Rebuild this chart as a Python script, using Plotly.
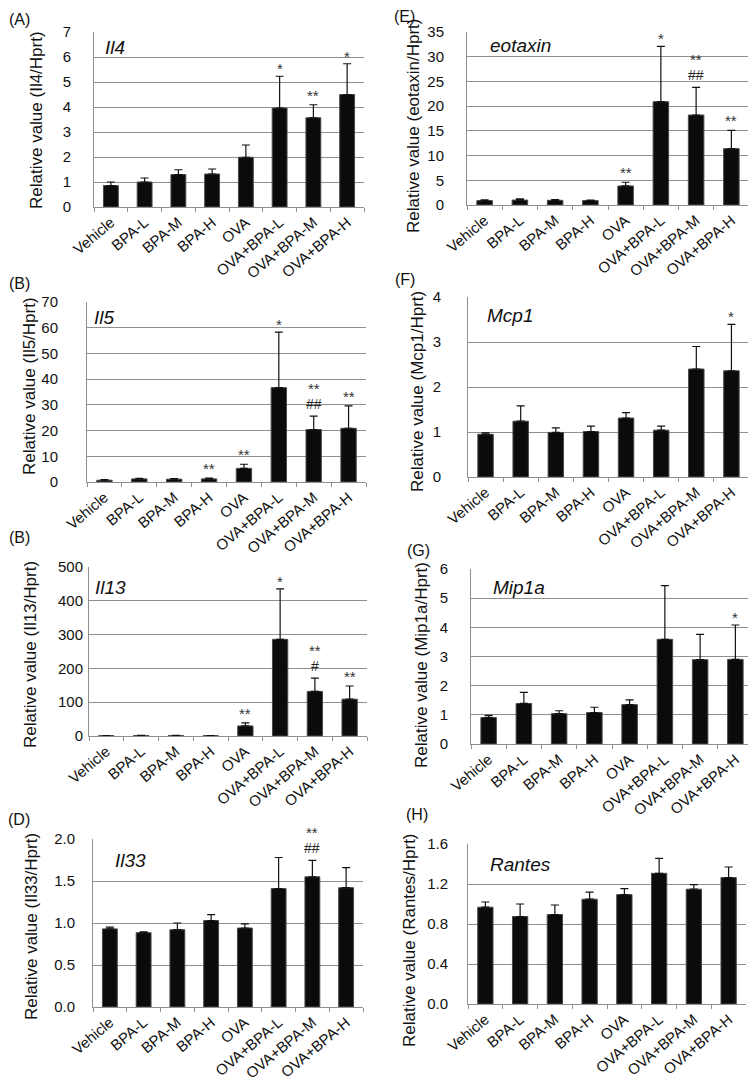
import plotly.graph_objects as go

categories = ["Vehicle", "BPA-L", "BPA-M", "BPA-H", "OVA", "OVA+BPA-L", "OVA+BPA-M", "OVA+BPA-H"]

# (A) Il4
il4_mean = [0.86, 1.00, 1.30, 1.32, 1.99, 3.96, 3.57, 4.50]
il4_sd = [0.14, 0.16, 0.19, 0.20, 0.49, 1.27, 0.52, 1.23]
il4_star = ["", "", "", "", "", "*", "**", "*"]
il4_hash = ["", "", "", "", "", "", "", ""]

# (E) eotaxin
eot_mean = [0.90, 1.00, 0.95, 0.90, 3.85, 20.9, 18.2, 11.4]
eot_sd = [0.15, 0.25, 0.15, 0.10, 0.75, 11.2, 5.6, 3.7]
eot_star = ["", "", "", "", "**", "*", "**", "**"]
eot_hash = ["", "", "", "", "", "", "##", ""]

# (B) Il5
il5_mean = [0.7, 1.2, 1.1, 1.2, 5.3, 36.7, 20.4, 20.9]
il5_sd = [0.2, 0.2, 0.2, 0.3, 1.6, 21.6, 5.2, 8.7]
il5_star = ["", "", "", "**", "**", "*", "**", "**"]
il5_hash = ["", "", "", "", "", "", "##", ""]

# (F) Mcp1
mcp1_mean = [0.95, 1.24, 0.99, 1.01, 1.31, 1.04, 2.40, 2.36]
mcp1_sd = [0.03, 0.34, 0.10, 0.12, 0.12, 0.09, 0.50, 1.03]
mcp1_star = ["", "", "", "", "", "", "", "*"]
mcp1_hash = ["", "", "", "", "", "", "", ""]

# (B) Il13
il13_mean = [1.0, 1.5, 1.5, 1.0, 29.7, 286, 132, 109]
il13_sd = [0.3, 0.4, 0.4, 0.3, 8.9, 149, 39, 39]
il13_star = ["", "", "", "", "**", "*", "**", "**"]
il13_hash = ["", "", "", "", "", "", "#", ""]

# (G) Mip1a
mip_mean = [0.91, 1.39, 1.04, 1.08, 1.35, 3.59, 2.89, 2.90]
mip_sd = [0.07, 0.38, 0.10, 0.18, 0.16, 1.84, 0.87, 1.18]
mip_star = ["", "", "", "", "", "", "", "*"]
mip_hash = ["", "", "", "", "", "", "", ""]

# (D) Il33
il33_mean = [0.93, 0.885, 0.92, 1.03, 0.94, 1.41, 1.55, 1.42]
il33_sd = [0.02, 0.01, 0.08, 0.07, 0.05, 0.37, 0.195, 0.24]
il33_star = ["", "", "", "", "", "", "**", ""]
il33_hash = ["", "", "", "", "", "", "##", ""]

# (H) Rantes
ran_mean = [0.968, 0.875, 0.895, 1.048, 1.094, 1.307, 1.148, 1.264]
ran_sd = [0.052, 0.125, 0.095, 0.070, 0.060, 0.150, 0.046, 0.106]
ran_star = ["", "", "", "", "", "", "", ""]
ran_hash = ["", "", "", "", "", "", "", ""]

panel_letters = ["(A)", "(E)", "(B)", "(F)", "(B)", "(G)", "(D)", "(H)"]
gene_names = ["Il4", "eotaxin", "Il5", "Mcp1", "Il13", "Mip1a", "Il33", "Rantes"]
y_titles = ["Relative value (Il4/Hprt)", "Relative value (eotaxin/Hprt)",
            "Relative value (Il5/Hprt)", "Relative value (Mcp1/Hprt)",
            "Relative value (Il13/Hprt)", "Relative value (Mip1a/Hprt)",
            "Relative value (Il33/Hprt)", "Relative value (Rantes/Hprt)"]
y_max = [7, 35, 70, 4, 500, 6, 2.0, 1.6]
y_dtick = [1, 5, 10, 1, 100, 1, 0.5, 0.4]
y_fmt = ["d", "d", "d", "d", "d", "d", ".1f", ".1f"]

means = [il4_mean, eot_mean, il5_mean, mcp1_mean, il13_mean, mip_mean, il33_mean, ran_mean]
sds = [il4_sd, eot_sd, il5_sd, mcp1_sd, il13_sd, mip_sd, il33_sd, ran_sd]
stars = [il4_star, eot_star, il5_star, mcp1_star, il13_star, mip_star, il33_star, ran_star]
hashes = [il4_hash, eot_hash, il5_hash, mcp1_hash, il13_hash, mip_hash, il33_hash, ran_hash]

# ---- layout geometry (window pixels; page body adds an 8px margin) ----
OFF = 8
W, H = 756 - OFF, 1085 - OFF
# left, right, top, bottom of plot areas
boxes = [(94, 364, 32, 207), (467, 749, 32, 205),
         (87, 366, 302, 482), (468, 749, 297, 477),
         (89, 367, 567, 736), (471, 753, 569, 744),
         (93, 363, 839, 1007), (468, 746, 844, 1004)]
label_gap = [19, 19, 25, 23, 2, 19, 14, 16]
title_pos = [(36, 120), (413, 126), (29, 386), (418, 392),
             (30, 655), (421, 665), (31, 927), (409, 940)]
letter_pos = [(19, 19), (404, 17), (19, 283), (405, 279), (19, 537), (418, 550), (19, 819), (417, 814)]
gene_pos = [(103, 47), (488, 46), (92, 317), (485, 315), (93, 587), (491, 587), (113, 860), (488, 864)]

def px(x):
    return (x - OFF) / W

def py(y):
    return 1 - (y - OFF) / H

FONT = "Liberation Sans, Arial, sans-serif"
GRID = "#8f8f8f"

fig = go.Figure()
annotations = []
layout = {}

for i in range(8):
    n = i + 1
    xa = "x" if n == 1 else f"x{n}"
    ya = "y" if n == 1 else f"y{n}"
    l, r, t, b = boxes[i]
    fig.add_trace(go.Bar(
        x=categories, y=means[i], xaxis=xa, yaxis=ya,
        marker=dict(color="#0b0b0b", line=dict(color="#4a4a4a", width=1)),
        error_y=dict(type="data", array=sds[i], arrayminus=[0] * 8, symmetric=False,
                     color="#111111", thickness=1.2, width=4),
        showlegend=False, hoverinfo="skip"))
    layout["xaxis" if n == 1 else f"xaxis{n}"] = dict(
        domain=[px(l), px(r)], anchor=ya, type="category", automargin=False,
        showline=True, linecolor=GRID, linewidth=1,
        ticks="outside", tickson="boundaries", ticklen=4, tickcolor=GRID,
        tickangle=-40, tickfont=dict(family=FONT, size=15, color="#111"),
        showgrid=False, fixedrange=True)
    layout["yaxis" if n == 1 else f"yaxis{n}"] = dict(
        domain=[py(b), py(t)], anchor=xa, range=[0, y_max[i]], dtick=y_dtick[i],
        tickformat=y_fmt[i], showline=True, linecolor=GRID, linewidth=1, automargin=False,
        showgrid=True, gridcolor=GRID, gridwidth=1, zeroline=False, ticks="",
        ticklabelstandoff=label_gap[i],
        tickfont=dict(family=FONT, size=15, color="#111"), fixedrange=True)

    # y-axis title
    tx, ty = title_pos[i]
    annotations.append(dict(
        x=px(tx), y=py(ty), xref="paper", yref="paper",
        text=y_titles[i], textangle=-90, showarrow=False,
        font=dict(family=FONT, size=17, color="#111"), xanchor="center", yanchor="middle"))
    # panel letter
    lx, ly = letter_pos[i]
    annotations.append(dict(
        x=px(lx), y=py(ly), xref="paper", yref="paper", text=panel_letters[i],
        showarrow=False, font=dict(family=FONT, size=16, color="#111"),
        xanchor="center", yanchor="middle"))
    # gene name
    gx, gy = gene_pos[i]
    annotations.append(dict(
        x=px(gx), y=py(gy), xref="paper", yref="paper", text=f"<i>{gene_names[i]}</i>",
        showarrow=False, font=dict(family=FONT, size=19, color="#111"),
        xanchor="left", yanchor="middle"))
    # significance marks
    for j, c in enumerate(categories):
        s, h = stars[i][j], hashes[i][j]
        if not s and not h:
            continue
        top = means[i][j] + sds[i][j]
        if h:
            annotations.append(dict(
                x=c, y=top, xref=xa, yref=ya, text=h, showarrow=False,
                font=dict(family=FONT, size=14, color="#222"),
                xanchor="center", yanchor="bottom", yshift=2))
            annotations.append(dict(
                x=c, y=top, xref=xa, yref=ya, text=s, showarrow=False,
                font=dict(family=FONT, size=15, color="#333"),
                xanchor="center", yanchor="bottom", yshift=17))
        else:
            annotations.append(dict(
                x=c, y=top, xref=xa, yref=ya, text=s, showarrow=False,
                font=dict(family=FONT, size=15, color="#333"),
                xanchor="center", yanchor="bottom", yshift=-3 if s == "*" else -1))

fig.update_layout(
    width=W, height=H, margin=dict(l=0, r=0, t=0, b=0),
    paper_bgcolor="white", plot_bgcolor="white",
    bargap=0.56, annotations=annotations, **layout)

fig.write_html("out.html")
